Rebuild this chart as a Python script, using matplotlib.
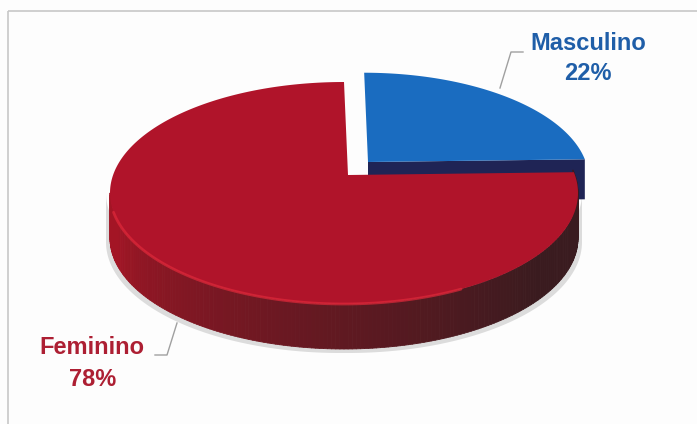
import numpy as np
import matplotlib.pyplot as plt
from matplotlib.patches import Polygon, Rectangle
from matplotlib.collections import PolyCollection
from matplotlib.colors import to_rgb

# data
labels = ['Masculino', 'Feminino']
values = [22, 78]
top_colors = ['#1a6cc0', '#b0142a']
side_colors = ['#1f2455', '#a31525']
text_colors = ['#1f5ea8', '#ad1f33']

# pie geometry (pixel coords)
cx, cy = 344, 193
a, b = 234, 111
depth = 45
apex = (348, 175)
explode = (20, -13)
back_scale = 0.96

fig = plt.figure(figsize=(6.97, 4.24), dpi=100)
ax = fig.add_axes([0, 0, 1, 1])
ax.set_xlim(0, 697)
ax.set_ylim(424, 0)
ax.axis('off')
fig.patch.set_facecolor('#fdfdfd')

# chart frame
ax.add_patch(Rectangle((8, 11), 700, 430, fill=False, ec='#c8c8c8', lw=1.2))


def pt(t, dz=0):
    r = np.radians(t)
    return cx + a * np.cos(r), cy - b * np.sin(r) + dz


def pt_blue(t):
    x, y = pt(t)
    return (apex[0] + explode[0] + back_scale * (x - apex[0]),
            apex[1] + explode[1] + back_scale * (y - apex[1]))


# angles: start at 90 deg, Masculino goes clockwise
fr = np.array(values) / sum(values)
m_start, m_end = 90 - 360 * fr[0], 90
f_start, f_end = 90, 90 + 360 * fr[1]

# soft shadow rim under the pie
tt = np.linspace(180, 360, 120)
rim = [pt(t, dz=depth + 4) for t in tt] + [pt(t) for t in tt[::-1]]
rim = [(x + (1 if x > cx else -1) * 4, y) for x, y in rim]
ax.add_patch(Polygon(rim, closed=True, fc='#dcdcdc', ec='none'))

# Masculino radial face (exploded)
bapex = (apex[0] + explode[0], apex[1] + explode[1])
c1 = pt_blue(m_start)
face = [bapex, c1, (c1[0], c1[1] + 40), (bapex[0], bapex[1] + 40)]
ax.add_patch(Polygon(face, closed=True, fc=side_colors[0], ec='none'))

# Masculino top
tt = np.linspace(m_start, m_end, 80)
ax.add_patch(Polygon([bapex] + [pt_blue(t) for t in tt], closed=True,
                     fc=top_colors[0], ec='none'))

# Feminino outer side with shading
light = np.array(to_rgb(side_colors[1]))
dark = np.array(to_rgb('#3a1b1f'))
segs, cols = [], []
tt = np.linspace(180, 372, 193)
for t0, t1 in zip(tt[:-1], tt[1:]):
    p0, p1 = pt(t0), pt(t1)
    segs.append([p0, p1, (p1[0], p1[1] + depth), (p0[0], p0[1] + depth)])
    k = min(1, max(0, (t0 - 195) / 130)) ** 0.8
    cols.append(light * (1 - k) + dark * k)
ax.add_collection(PolyCollection(segs, facecolors=cols, edgecolors=cols, lw=0.6))

# Feminino top
tt = np.linspace(f_start, f_end, 300)
ax.add_patch(Polygon([apex] + [pt(t) for t in tt], closed=True,
                     fc=top_colors[1], ec='none'))
# light rim on front edge
tt = np.linspace(190, 300, 120)
rx, ry = zip(*[pt(t) for t in tt])
ax.plot(rx, ry, color='#e0283a', lw=2, alpha=0.7, solid_capstyle='round')

# leader lines
ax.plot([500, 511, 523], [88, 52, 52], color='#a0a0a0', lw=1)
ax.plot([177, 167, 155], [323, 355, 355], color='#a0a0a0', lw=1)

# labels
font = dict(family='Liberation Sans', fontweight='bold', fontsize=17,
            ha='center', va='center')
ax.text(588, 43, labels[0], color=text_colors[0], **font)
ax.text(588, 74, f'{values[0]}%', color=text_colors[0], **font)
ax.text(92, 348, labels[1], color=text_colors[1], **font)
ax.text(93, 379, f'{values[1]}%', color=text_colors[1], **font)

fig.savefig('out.png', dpi=100, facecolor=fig.get_facecolor())
